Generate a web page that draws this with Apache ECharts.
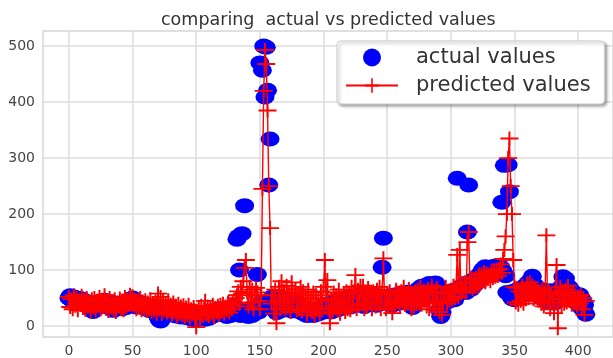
<!DOCTYPE html>
<html>
<head>
<meta charset="utf-8">
<script src="https://cdn.jsdelivr.net/npm/echarts@6/dist/echarts.min.js"></script>
<style>
html,body{margin:0;padding:0;background:#fff;}
#chart{width:613px;height:358px;}
</style>
</head>
<body>
<div id="chart"></div>
<script>
var titleText = 'comparing  actual vs predicted values';
var seriesNames = ['actual values', 'predicted values'];
var xTicks = [0, 50, 100, 150, 200, 250, 300, 350, 400];
var yTicks = [0, 100, 200, 300, 400, 500];

var actualValues = [
50,54,47,45,52,44,48,40,45,49,
43,47,38,44,40,36,42,34,28,26,
31,38,42,33,40,44,35,41,46,36,
42,34,44,38,32,28,31,37,33,39,
41,34,31,37,40,33,42,45,48,46,
50,45,40,34,38,43,41,36,33,40,
37,31,29,35,28,34,27,31,25,23,
16,11,9,13,20,27,31,26,22,28,
24,31,20,26,18,24,29,20,16,23,
27,17,22,15,24,19,13,18,12,15,
11,18,13,21,15,23,16,12,19,22,
14,24,17,26,19,28,21,27,31,23,
29,21,26,31,17,25,30,19,24,32,
36,24,155,160,100,19,165,24,215,30,
21,17,31,24,19,28,23,33,92,25,
470,42,457,500,409,498,421,252,334,46,
52,30,43,24,38,46,27,51,34,43,
29,38,46,32,41,27,36,45,30,40,
35,26,33,24,30,21,28,19,26,23,
21,28,19,25,31,21,28,23,33,30,
25,28,33,39,29,37,25,41,34,45,
38,29,46,40,32,49,35,43,51,38,
46,34,53,40,48,43,37,51,44,56,
41,49,35,52,45,39,54,47,41,57,
43,51,37,48,53,45,105,157,42,51,
47,40,54,46,37,51,43,56,49,41,
53,45,59,50,43,56,47,61,52,39,
33,45,57,63,50,67,58,71,64,54,
69,73,60,76,66,57,71,64,77,72,
54,29,17,24,40,48,61,52,44,56,
50,63,56,47,61,264,58,66,71,62,
69,76,60,168,252,73,66,79,83,74,
81,87,91,84,96,101,88,106,98,92,
97,103,94,101,107,98,105,95,101,106,
221,98,287,90,60,288,240,54,49,62,
47,59,52,66,55,61,69,62,71,57,
76,65,81,70,89,61,73,57,67,54,
61,51,65,47,56,44,59,49,63,45,
56,41,61,50,47,66,55,71,88,62,
85,73,60,69,54,63,47,58,44,52,
39,56,34,48,29,38,21
];

var predictedValues = [
52,34,48,30,55,36,50,28,46,38,
54,32,47,29,50,35,44,26,48,33,
50,28,45,36,52,30,47,34,55,31,
46,27,50,33,44,29,48,25,42,35,
49,30,45,28,52,34,47,38,56,40,
53,36,47,30,45,33,50,28,44,31,
46,27,42,30,48,25,40,28,44,22,
58,30,52,22,45,28,40,24,46,26,
38,20,42,24,36,18,40,22,35,20,
37,16,33,20,38,15,30,22,34,14,
-2,25,32,12,36,18,30,45,20,35,
18,34,22,38,16,32,24,36,20,38,
26,40,22,35,28,42,24,38,30,44,
35,50,55,62,40,70,58,80,104,118,
60,35,70,42,65,30,55,68,60,45,
30,55,245,420,493,468,385,250,175,40,
55,22,65,5,45,70,30,80,40,62,
30,72,35,60,25,78,42,55,66,28,
58,30,70,26,62,35,55,20,65,32,
50,25,60,18,55,30,48,22,62,35,
70,118,45,82,30,5,48,25,60,32,
55,28,65,22,50,35,58,25,62,30,
60,28,70,35,60,91,30,65,38,72,
40,72,30,60,35,68,42,58,30,62,
55,35,65,40,70,30,60,121,45,30,
58,35,62,40,23,55,35,65,42,60,
35,62,45,70,38,58,42,66,50,30,
55,35,62,40,65,45,70,38,62,45,
60,35,66,30,58,72,40,62,30,68,
42,25,60,20,45,58,70,40,62,45,
65,48,72,50,68,127,52,136,60,76,
62,78,60,150,168,70,86,66,84,70,
82,70,92,74,92,80,96,78,94,84,
92,80,98,86,98,88,100,90,102,110,
95,120,136,160,200,300,335,250,200,118,
70,42,68,38,62,45,72,40,66,48,
76,50,78,55,72,48,68,52,62,45,
58,40,66,35,60,162,42,62,30,58,
48,23,60,109,-4,55,70,35,62,40,
65,42,72,45,58,38,60,42,54,36,
52,40,55,30,50,20,45
];

var font = 'DejaVu Sans';
var chart = echarts.init(document.getElementById('chart'), null, {renderer: 'canvas'});
var actualPairs = actualValues.map(function (v, i) { return [i, v]; });
var predictedPairs = predictedValues.map(function (v, i) { return [i, v]; });

var option = {
  animation: false,
  backgroundColor: '#ffffff',
  title: {
    text: titleText,
    left: 156,
    top: 6,
    textStyle: {fontFamily: font, fontSize: 17.5, fontWeight: 'normal', color: '#333333'}
  },
  legend: {
    data: [{name: seriesNames[0], icon: 'circle'}, {name: seriesNames[1]}],
    orient: 'vertical',
    left: 337,
    top: 41,
    padding: [6, 14, 8, 8],
    itemGap: 7,
    itemWidth: 52,
    itemHeight: 18,
    backgroundColor: '#ffffff',
    borderColor: '#cccccc',
    borderWidth: 1,
    borderRadius: 4,
    shadowBlur: 3,
    shadowColor: 'rgba(0,0,0,0.35)',
    shadowOffsetX: 2,
    shadowOffsetY: 2,
    textStyle: {fontFamily: font, fontSize: 21, color: '#333333', padding: [0, 0, 0, 13]}
  },
  grid: {
    left: 43, right: -8, top: 31, bottom: 21,
    show: true, borderColor: '#d6d6d6', borderWidth: 1.5, backgroundColor: 'transparent'
  },
  xAxis: {
    type: 'value',
    min: -20.35,
    max: 427.35,
    axisLine: {show: false},
    axisTick: {show: false, customValues: xTicks},
    axisLabel: {customValues: xTicks, margin: 7, fontFamily: font, fontSize: 14, color: '#444444'},
    splitLine: {show: true, lineStyle: {color: '#dcdcdc', width: 1.5}}
  },
  yAxis: {
    type: 'value',
    min: -19.6,
    max: 527,
    axisLine: {show: false},
    axisTick: {show: false, customValues: yTicks},
    axisLabel: {customValues: yTicks, margin: 8, fontFamily: font, fontSize: 14, color: '#444444'},
    splitLine: {show: true, lineStyle: {color: '#dcdcdc', width: 1.5}}
  },
  series: [
    {
      name: seriesNames[0],
      type: 'scatter',
      data: actualPairs,
      symbol: 'circle',
      symbolSize: [19, 15],
      itemStyle: {color: '#0000ff', opacity: 1},
      z: 2
    },
    {
      name: seriesNames[1],
      type: 'line',
      data: predictedPairs,
      showAllSymbol: true,
      symbol: 'path://M0,4.35H10V5.65H0Z M4.45,0H5.55V10H4.45Z',
      symbolSize: [18, 14],
      lineStyle: {color: '#ff0000', width: 1.4},
      itemStyle: {color: '#ff0000'},
      z: 3
    }
  ]
};
chart.setOption(option);
</script>
</body>
</html>
